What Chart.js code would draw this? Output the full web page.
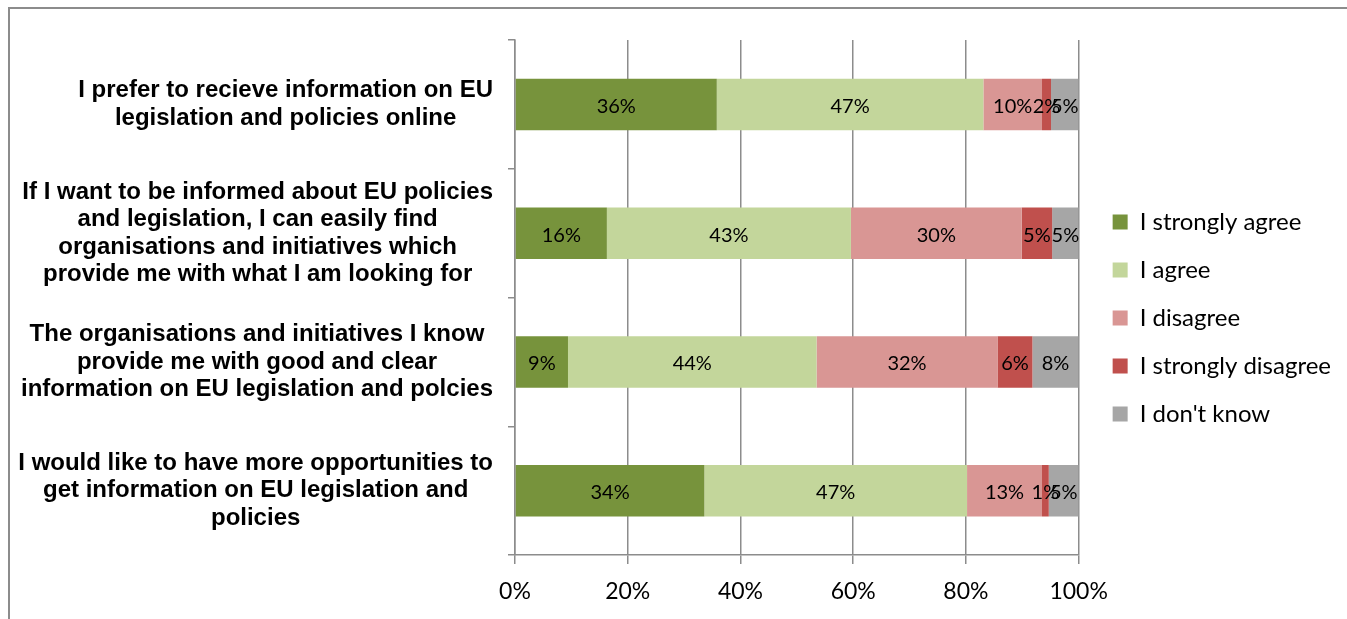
<!DOCTYPE html>
<html>
<head>
<meta charset="utf-8">
<script src="https://cdn.jsdelivr.net/npm/chart.js@4/dist/chart.umd.min.js"></script>
<style>
  html, body { margin: 0; padding: 0; background: #fff; overflow: hidden; }
  #chart { display: block; }
</style>
</head>
<body>
<canvas id="chart" width="1347" height="619"></canvas>
<script>
// Survey statements (one line per array entry)
const questions = [
  ['I prefer to recieve information on EU', 'legislation and policies online'],
  ['If I want to be informed about EU policies', 'and legislation, I can easily find',
   'organisations and initiatives which', 'provide me with what I am looking for'],
  ['The organisations and initiatives I know', 'provide me with good and clear',
   'information on EU legislation and polcies'],
  ['I would like to have more opportunities to', 'get information on EU legislation and', 'policies']
];

// Shares in percent
const stronglyAgree    = [35.8, 16.3, 9.4, 33.6];
const agree            = [47.3, 43.3, 44.1, 46.6];
const disagree         = [10.4, 30.3, 32.1, 13.3];
const stronglyDisagree = [1.6, 5.4, 6.2, 1.2];
const dontKnow         = [4.9, 4.7, 8.2, 5.3];

const xTicks = [0, 20, 40, 60, 80, 100];

const gridGray = '#8c8c8c';

// outer chart frame (only left and top edges are in view)
const frame = {
  id: 'frame',
  beforeDraw (chart) {
    const ctx = chart.ctx;
    ctx.save();
    ctx.strokeStyle = gridGray;
    ctx.lineWidth = 2;
    ctx.beginPath();
    ctx.moveTo(9, chart.height);
    ctx.lineTo(9, 8);
    ctx.lineTo(chart.width, 8);
    ctx.stroke();
    ctx.restore();
  }
};

// draws the value inside each segment
const segmentLabels = {
  id: 'segmentLabels',
  afterDatasetsDraw (chart) {
    const ctx = chart.ctx;
    ctx.save();
    ctx.font = '20px Lato';
    ctx.fillStyle = '#000';
    ctx.textAlign = 'center';
    ctx.textBaseline = 'middle';
    chart.data.datasets.forEach((ds, i) => {
      chart.getDatasetMeta(i).data.forEach((bar, j) => {
        const { x, base, y } = bar.getProps(['x', 'base', 'y'], true);
        ctx.fillText(Math.round(ds.data[j]) + '%', (x + base) / 2, y + 2);
      });
    });
    ctx.restore();
  }
};

// category labels: each block right-aligned to the axis, lines centred in the block
const questionLabels = {
  id: 'questionLabels',
  afterDraw (chart) {
    const ctx = chart.ctx;
    const scale = chart.scales.y;
    const lh = 27.5;
    ctx.save();
    ctx.font = 'bold 24px "Liberation Sans"';
    ctx.fillStyle = '#000';
    ctx.textAlign = 'center';
    ctx.textBaseline = 'middle';
    questions.forEach((lines, i) => {
      const widest = Math.max(...lines.map(l => ctx.measureText(l).width));
      const cx = scale.right - 22 - widest / 2;
      const cy = scale.getPixelForTick(i);
      const top = cy - (lines.length - 1) * lh / 2;
      lines.forEach((l, k) => ctx.fillText(l, cx, top + k * lh));
    });
    ctx.restore();
  }
};

new Chart(document.getElementById('chart'), {
  type: 'bar',
  data: {
    labels: questions,
    datasets: [
      { label: 'I strongly agree', data: stronglyAgree, backgroundColor: '#77933c' },
      { label: 'I agree', data: agree, backgroundColor: '#c3d69b' },
      { label: 'I disagree', data: disagree, backgroundColor: '#d99694' },
      { label: 'I strongly disagree', data: stronglyDisagree, backgroundColor: '#c0504d' },
      { label: "I don't know", data: dontKnow, backgroundColor: '#a6a6a6' }
    ]
  },
  options: {
    indexAxis: 'y',
    responsive: false,
    animation: false,
    devicePixelRatio: 1,
    categoryPercentage: 1,
    barPercentage: 0.4,
    layout: { padding: { top: 40, bottom: 0, left: 0, right: 6 } },
    plugins: {
      tooltip: { enabled: false },
      legend: {
        position: 'right',
        fullSize: false,
        maxWidth: 320,
        title: { display: true, text: '', font: { size: 1 }, padding: { top: 40, bottom: 0 } },
        labels: {
          boxWidth: 15,
          boxHeight: 15,
          padding: 24,
          color: '#000',
          font: { family: 'Lato', size: 24 }
        }
      }
    },
    scales: {
      x: {
        stacked: true,
        min: 0,
        max: 100,
        afterBuildTicks: s => { s.ticks = xTicks.map(v => ({ value: v })); },
        afterFit: s => { s.height = 64; },
        grid: { color: gridGray, lineWidth: 1.5, tickLength: 9 },
        border: { color: gridGray, width: 1.5 },
        ticks: {
          color: '#000',
          padding: 14,
          font: { family: 'Lato', size: 23 },
          callback: v => v + '%'
        }
      },
      y: {
        stacked: true,
        afterFit: s => { s.width = 515; },
        grid: { drawOnChartArea: false, color: gridGray, lineWidth: 1.5, tickLength: 7 },
        border: { color: gridGray, width: 1.5 },
        ticks: { display: false }
      },
      // empty spacer between plot and legend
      gap: {
        type: 'linear',
        position: 'right',
        afterFit: s => { s.width = 10; },
        grid: { display: false },
        border: { display: false },
        ticks: { display: false }
      }
    }
  },
  plugins: [frame, segmentLabels, questionLabels]
});
</script>
</body>
</html>
